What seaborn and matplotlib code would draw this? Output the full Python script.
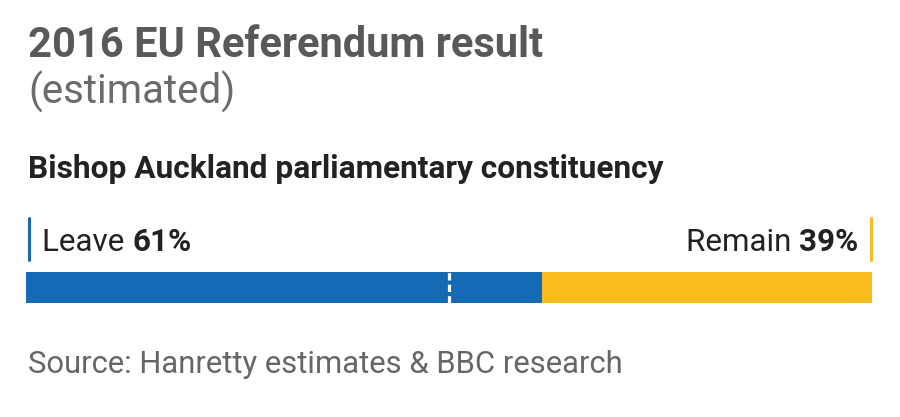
import matplotlib
matplotlib.use("Agg")
import matplotlib.pyplot as plt
import seaborn as sns
from matplotlib.lines import Line2D

# data
sides = ["Leave", "Remain"]
shares = [61, 39]
side_colors = ["#146ab4", "#f8bd1d"]
title = "2016 EU Referendum result"
subtitle = "(estimated)"
constituency = "Bishop Auckland parliamentary constituency"
source = "Source: Hanretty estimates & BBC research"

sns.set_theme(style="white")
plt.rcParams["font.family"] = ["Roboto", "DejaVu Sans"]

fig = plt.figure(figsize=(9, 4.17), dpi=100)
ax = fig.add_axes([26 / 900, 1 - 303 / 417, 846 / 900, 31 / 417])

# stacked bar: total first (remain colour), then leave on top
sns.barplot(x=[sum(shares)], y=["result"], color=side_colors[1], width=1,
            saturation=1, linewidth=0, ax=ax, orient="h")
sns.barplot(x=[shares[0]], y=["result"], color=side_colors[0], width=1,
            saturation=1, linewidth=0, ax=ax, orient="h")
ax.axvline(50, color="white", lw=2.3, ls=(0, (2.3, 1.3)))
ax.set_xlim(0, 100)
ax.set_ylim(0.5, -0.5)
ax.axis("off")

# headings
fig.text(28 / 900, 1 - 57 / 417, title, fontsize=30, fontweight="bold",
         color="#595959", va="baseline")
fig.text(28 / 900, 1 - 104 / 417, subtitle, fontsize=29, fontweight="normal",
         color="#6b6b6b", va="baseline")
fig.text(28 / 900, 1 - 178 / 417, constituency, fontsize=22.8, fontweight="bold",
         color="#222222", va="baseline")

# side labels with markers
fs = 22.6
lab_y = 1 - 251 / 417
t = fig.text(42 / 900, lab_y, f"{sides[0]} ", fontsize=fs, color="#222222", va="baseline")
fig.canvas.draw()
bb = t.get_window_extent()
fig.text(bb.x1 / 900, lab_y, f"{shares[0]}%", fontsize=fs, fontweight="bold",
         color="#222222", va="baseline")

t2 = fig.text(858 / 900, lab_y, f"{shares[1]}%", fontsize=fs, fontweight="bold",
              color="#222222", va="baseline", ha="right")
fig.canvas.draw()
bb2 = t2.get_window_extent()
fig.text(bb2.x0 / 900, lab_y, f"{sides[1]} ", fontsize=fs, color="#222222",
         va="baseline", ha="right")

fig.add_artist(Line2D([29 / 900, 29 / 900], [1 - 260 / 417, 1 - 218 / 417],
                      color=side_colors[0], lw=2.2))
fig.add_artist(Line2D([871 / 900, 871 / 900], [1 - 260 / 417, 1 - 218 / 417],
                      color=side_colors[1], lw=2.2))

fig.text(28 / 900, 1 - 373 / 417, source, fontsize=22.3, color="#666666", va="baseline")

fig.savefig("out.png", dpi=100, facecolor="white")
